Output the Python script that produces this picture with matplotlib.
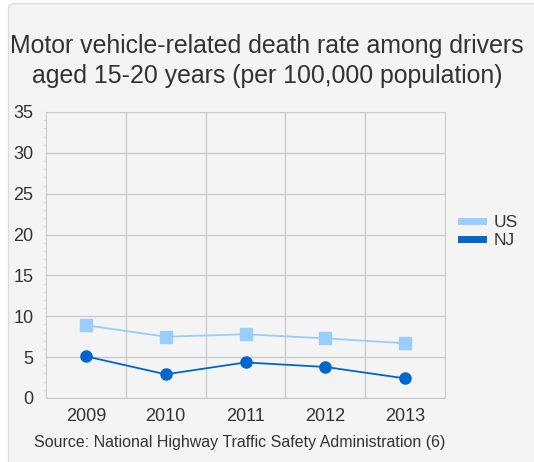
import matplotlib.pyplot as plt
from matplotlib.patches import FancyBboxPatch
from matplotlib.ticker import MultipleLocator

plt.rcParams['font.family'] = ['Liberation Sans', 'DejaVu Sans']

years = ['2009', '2010', '2011', '2012', '2013']
us = [8.9, 7.5, 7.8, 7.3, 6.7]
nj = [5.1, 2.9, 4.35, 3.8, 2.4]

fig = plt.figure(figsize=(5.34, 4.62), dpi=100)
fig.patch.set_facecolor('white')
bg = FancyBboxPatch((0.016, -0.05), 1.2, 1.042, boxstyle='round,pad=0,rounding_size=0.012',
                    transform=fig.transFigure, facecolor='#f4f4f4', edgecolor='#dcdcdc', lw=1,
                    zorder=-10)
fig.patches.append(bg)

ax = fig.add_axes([46 / 534, 1 - 398 / 462, (445 - 46) / 534, (398 - 112) / 462])
ax.set_facecolor('#f4f4f4')
x = range(len(years))
ax.plot(x, us, color='#99ccff', marker='s', markersize=8, lw=1.3, label='US')
ax.plot(x, nj, color='#0066cc', marker='o', markersize=8, lw=1.3, label='NJ')

ax.set_xlim(-0.5, 4.5)
ax.set_ylim(0, 35)
ax.set_xticks(list(x))
ax.set_xticklabels(years)
ax.set_xticks([0.5, 1.5, 2.5, 3.5], minor=True)
ax.yaxis.set_major_locator(MultipleLocator(5))
ax.yaxis.set_minor_locator(MultipleLocator(1))
ax.grid(True, which='minor', axis='x', color='#cccccc', lw=1)
ax.grid(True, which='major', axis='y', color='#cccccc', lw=1)
ax.set_axisbelow(True)
for s in ax.spines.values():
    s.set_color('#cccccc')
ax.tick_params(axis='x', which='both', length=0, labelsize=13, colors='#333333', pad=7)
ax.tick_params(axis='y', which='major', length=0, labelsize=13, colors='#333333', pad=9)
ax.tick_params(axis='y', which='minor', length=2, color='#dddddd')

fig.text(267 / 534, 1 - 61 / 462, 'Motor vehicle-related death rate among drivers\naged 15-20 years (per 100,000 population)',
         ha='center', va='center', fontsize=17.9, color='#333333', linespacing=1.3)
fig.text(240 / 534, 1 - 442 / 462, 'Source: National Highway Traffic Safety Administration (6)',
         ha='center', va='center', fontsize=11.5, color='#333333')

ax.legend(loc='upper left', bbox_to_anchor=(1.0, 0.695), frameon=False, fontsize=12.5,
          handlelength=1.3, handletextpad=0.6, labelspacing=0.15, labelcolor='#333333')
leg = ax.get_legend()
for h in leg.legend_handles:
    h.set_marker('')
    h.set_linewidth(5)

fig.savefig('out.png', dpi=100)
